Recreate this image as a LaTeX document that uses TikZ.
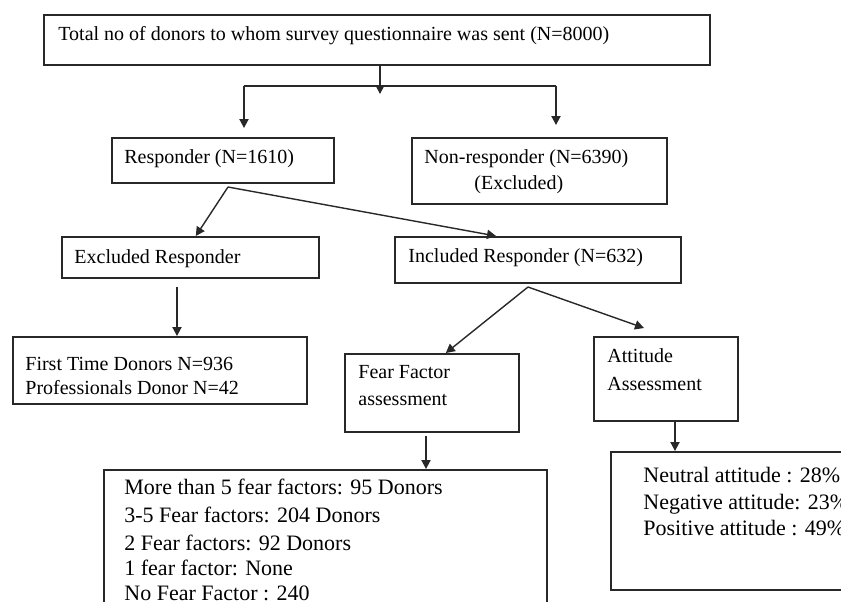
\documentclass[tikz,border=0pt]{standalone}
\usepackage{fontspec}
\setmainfont{Liberation Serif}
\usetikzlibrary{arrows.meta}

\definecolor{linegray}{RGB}{40, 40, 40}

\tikzset{
    box/.style={draw=linegray, rectangle, line width=0.8pt, anchor=north west, inner sep=0pt},
    lbl/.style={anchor=base west, inner sep=0pt, font=\fontsize{10}{12}\selectfont},
    biglbl/.style={lbl, font=\fontsize{11}{13}\selectfont},
    conn/.style={draw=linegray, line width=0.7pt},
    arr/.style={conn, -{Triangle[width=4.6pt,length=4.5pt]}}
}

\begin{document}
\begin{tikzpicture}[x=0.5pt, y=-0.5pt]
            \useasboundingbox (0, 0) rectangle (841, 601);
            \clip (0, 0) rectangle (841, 601);

            \node[box, minimum width=333pt, minimum height=25pt] (total) at (43, 14) {};
            \node[box, minimum width=111pt, minimum height=22.5pt] (resp) at (111, 137) {};
            \node[box, minimum width=127.5pt, minimum height=33pt] (nonresp) at (411, 137) {};
            \node[box, minimum width=128.5pt, minimum height=20.5pt] (exresp) at (61, 236) {};
            \node[box, minimum width=143pt, minimum height=23pt] (inresp) at (394, 236) {};
            \node[box, minimum width=147pt, minimum height=33.5pt] (first) at (12, 336) {};
            \node[box, minimum width=87pt, minimum height=39pt] (fear) at (344, 353) {};
            \node[box, minimum width=72pt, minimum height=42pt] (att) at (593, 336) {};
            \node[box, minimum width=221.5pt, minimum height=80pt] (fearlist) at (103, 469) {};
            \node[box, minimum width=125pt, minimum height=69pt] (attlist) at (610, 451) {};

            \node[lbl] (labeltotal) at (58, 40) {Total no of donors to whom survey questionnaire was sent (N=8000)};
            \node[lbl] (labelresp) at (124, 163.5) {Responder (N=1610)};
            \node[lbl] (labelnonresp) at (424, 163.5) {Non-responder (N=6390)};
            \node[lbl] (labelexcl) at (474, 189.5) {(Excluded)};
            \node[lbl] (labelexresp) at (74, 263.5) {Excluded Responder};
            \node[lbl] (labelinresp) at (408, 262.5) {Included Responder (N=632)};
            \node[lbl] (labelfirst) at (25, 370.5) {First Time Donors N=936};
            \node[lbl] (labelprof) at (25, 394.5) {Professionals Donor N=42};
            \node[lbl] (labelfear) at (358, 378.5) {Fear Factor};
            \node[lbl] (labelfearass) at (358, 405.5) {assessment};
            \node[lbl] (labelatt) at (607, 362.5) {Attitude};
            \node[lbl] (labelattass) at (607, 390.5) {Assessment};

            \foreach \y/\t [count=\i] in {494/More than 5 fear factors: 95 Donors, 522/3-5 Fear factors: 204 Donors, 550/2 Fear factors: 92 Donors, 575/1 fear factor: None, 600/No Fear Factor : 240} {
                \node[biglbl] (labelfearlist\i) at (124, \y) {\t};
            }
            \foreach \y/\t [count=\i] in {482/Neutral attitude : 28\%, 509/Negative attitude: 23\%, 535/Positive attitude : 49\%} {
                \node[biglbl] (labelattlist\i) at (643, \y) {\t};
            }

            \coordinate (split) at (380, 94);
            \coordinate (jl) at (244, 86);
            \coordinate (jr) at (556, 86);
            \draw[arr] (total.south -| split) -- (split);
            \draw[conn] (jl) -- (jr);
            \draw[arr, shorten >=4.5pt] (jl) -- (jl |- resp.north);
            \draw[arr, shorten >=6pt] (jr) -- (jr |- nonresp.north);

            \coordinate (rapex) at (228, 187);
            \draw[arr] (rapex) -- ([xshift=2.75pt]exresp.north);
            \draw[arr] (rapex) -- ([xshift=51pt]inresp.north west);

            \coordinate (exdrop) at (177, 287);
            \draw[arr] (exdrop) -- (exdrop |- first.north);

            \coordinate (iapex) at (528, 287);
            \coordinate (atip) at (644, 328);
            \draw[arr] (iapex) -- ([xshift=7pt]fear.north);
            \draw[arr] (iapex) -- (atip);

            \coordinate (feardrop) at (426, 436);
            \coordinate (attdrop) at (675, 420);
            \draw[arr] (feardrop) -- (feardrop |- fearlist.north);
            \draw[arr] (attdrop) -- (attdrop |- attlist.north);
        \end{tikzpicture}
\end{document}
